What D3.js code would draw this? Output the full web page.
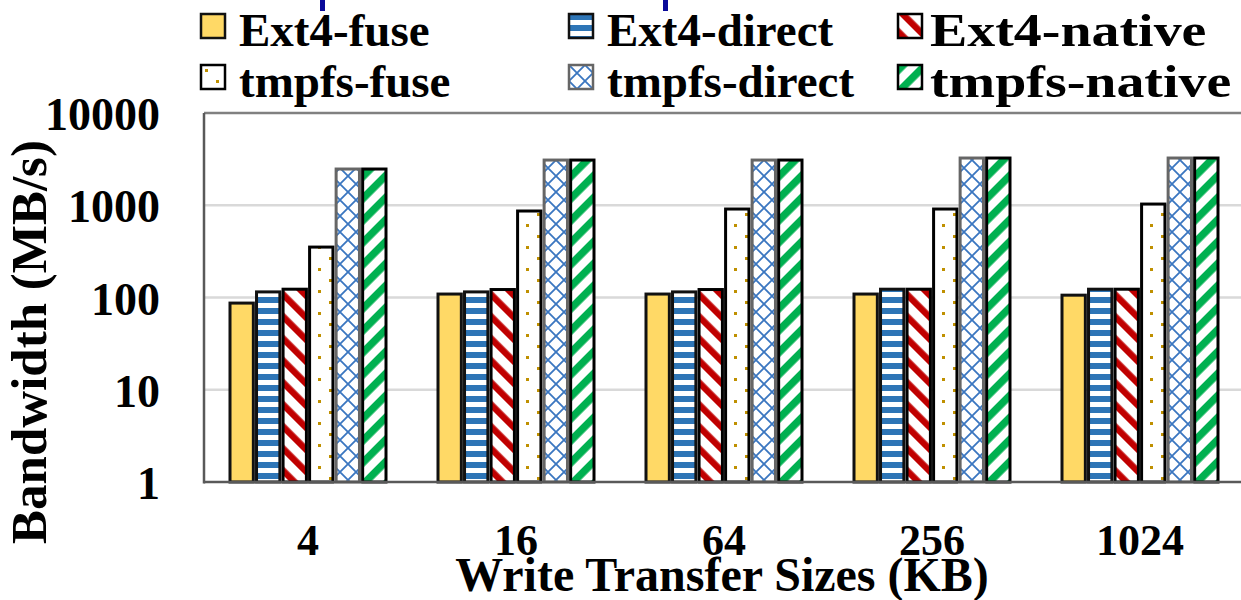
<!DOCTYPE html>
<html>
<head>
<meta charset="utf-8">
<script src="https://cdn.jsdelivr.net/npm/d3@7"></script>
<style>
  body { margin: 0; background: #fff; }
  svg { display: block; font-family: "Liberation Serif", "Times New Roman", serif; font-weight: bold; }
</style>
</head>
<body>
<div id="chart"></div>
<script>
const categories = ["4", "16", "64", "256", "1024"];
const seriesNames = ["Ext4-fuse", "Ext4-direct", "Ext4-native", "tmpfs-fuse", "tmpfs-direct", "tmpfs-native"];
const ext4Fuse = [87, 109, 109, 109, 106];
const ext4Direct = [115, 115, 115, 123, 123];
const ext4Native = [123, 122, 122, 123, 123];
const tmpfsFuse = [352, 866, 910, 910, 1030];
const tmpfsDirect = [2470, 3090, 3090, 3250, 3250];
const tmpfsNative = [2470, 3090, 3090, 3250, 3250];
const yTicks = [1, 10, 100, 1000, 10000];

const seriesValues = [ext4Fuse, ext4Direct, ext4Native, tmpfsFuse, tmpfsDirect, tmpfsNative];

const width = 1241, height = 600;
const margin = { top: 113, right: -3, bottom: 118, left: 204 };

const svg = d3.select("#chart").append("svg")
  .attr("width", width)
  .attr("height", height);

// fill patterns
const defs = svg.append("defs");

let p = defs.append("pattern").attr("id", "p-hstripe")
  .attr("patternUnits", "userSpaceOnUse").attr("width", 22).attr("height", 11);
p.append("rect").attr("width", 22).attr("height", 11).attr("fill", "#fff");
p.append("rect").attr("y", 0).attr("width", 22).attr("height", 6).attr("fill", "#2E75B6");

p = defs.append("pattern").attr("id", "p-down")
  .attr("patternUnits", "userSpaceOnUse").attr("width", 15.56).attr("height", 15.56)
  .attr("patternTransform", "rotate(-45)");
p.append("rect").attr("width", 15.56).attr("height", 15.56).attr("fill", "#fff");
p.append("rect").attr("width", 6.5).attr("height", 15.56).attr("fill", "#C00000");

p = defs.append("pattern").attr("id", "p-dots")
  .attr("patternUnits", "userSpaceOnUse").attr("width", 22).attr("height", 22);
p.append("rect").attr("width", 22).attr("height", 22).attr("fill", "#fff");
p.append("rect").attr("x", 4).attr("y", 4).attr("width", 3).attr("height", 3).attr("fill", "#BF9000");
p.append("rect").attr("x", 15).attr("y", 15).attr("width", 3).attr("height", 3).attr("fill", "#BF9000");

p = defs.append("pattern").attr("id", "p-cross")
  .attr("patternUnits", "userSpaceOnUse").attr("width", 16).attr("height", 16);
p.append("rect").attr("width", 16).attr("height", 16).attr("fill", "#fff");
p.append("path").attr("d", "M0,0L16,16M16,0L0,16")
  .attr("stroke", "#3A76C0").attr("stroke-width", 1.8)
  .attr("fill", "none");

p = defs.append("pattern").attr("id", "p-up")
  .attr("patternUnits", "userSpaceOnUse").attr("width", 15.56).attr("height", 15.56)
  .attr("patternTransform", "rotate(45)");
p.append("rect").attr("width", 15.56).attr("height", 15.56).attr("fill", "#fff");
p.append("rect").attr("width", 7.5).attr("height", 15.56).attr("fill", "#00B050");

const fills = ["#FFD966", "url(#p-hstripe)", "url(#p-down)", "url(#p-dots)", "url(#p-cross)", "url(#p-up)"];
const strokes = ["#111", "#111", "#000", "#000", "#666", "#000"];

const x0 = d3.scaleBand()
  .domain(categories)
  .range([margin.left, width - margin.right]);

const x1 = d3.scaleBand()
  .domain(seriesNames)
  .range([26, 182])
  .paddingInner(0.12);

const y = d3.scaleLog()
  .domain([1, 10000])
  .range([height - margin.bottom, margin.top]);

// gridlines
svg.append("g")
  .selectAll("line")
  .data(yTicks.slice(1, -1))
  .join("line")
  .attr("x1", margin.left)
  .attr("x2", width - margin.right)
  .attr("y1", d => y(d))
  .attr("y2", d => y(d))
  .attr("stroke", "#D9D9D9")
  .attr("stroke-width", 2.5);

// top border
svg.append("line")
  .attr("x1", margin.left).attr("x2", width - margin.right)
  .attr("y1", y(10000)).attr("y2", y(10000))
  .attr("stroke", "#808080").attr("stroke-width", 2.5);

// bars
const groups = svg.append("g")
  .selectAll("g")
  .data(categories)
  .join("g")
  .attr("transform", d => "translate(" + x0(d) + ",0)");

groups.selectAll("rect")
  .data((d, i) => seriesNames.map((s, j) => ({ s: s, j: j, v: seriesValues[j][i] })))
  .join("rect")
  .attr("x", d => x1(d.s))
  .attr("y", d => y(d.v))
  .attr("width", x1.bandwidth())
  .attr("height", d => y(1) - y(d.v))
  .attr("fill", d => fills[d.j])
  .attr("stroke", d => strokes[d.j])
  .attr("stroke-width", 3);

// axes
svg.append("line")
  .attr("x1", margin.left).attr("x2", margin.left)
  .attr("y1", y(10000)).attr("y2", y(1) + 1.5)
  .attr("stroke", "#595959").attr("stroke-width", 2.5);
svg.append("line")
  .attr("x1", margin.left).attr("x2", width - margin.right)
  .attr("y1", y(1)).attr("y2", y(1))
  .attr("stroke", "#595959").attr("stroke-width", 2.5);

const yAxis = svg.append("g")
  .attr("transform", "translate(" + margin.left + ",0)")
  .call(d3.axisLeft(y).tickValues(yTicks).tickFormat(d3.format("d")).tickSize(0).tickPadding(44));
yAxis.select(".domain").remove();
yAxis.selectAll("text")
  .attr("font-family", "Liberation Serif")
  .attr("font-weight", "bold")
  .attr("font-size", 46)
  .attr("fill", "#000")
  .attr("dy", "0.36em");

const xAxis = svg.append("g")
  .attr("transform", "translate(0," + y(1) + ")")
  .call(d3.axisBottom(x0).tickSize(0).tickPadding(42));
xAxis.select(".domain").remove();
xAxis.selectAll("text")
  .attr("font-family", "Liberation Serif")
  .attr("font-weight", "bold")
  .attr("font-size", 44)
  .attr("fill", "#000")
  .attr("dy", "0.71em");

// axis titles
svg.append("text")
  .attr("transform", "translate(46,342) rotate(-90)")
  .attr("text-anchor", "middle")
  .attr("font-size", 51)
  .text("Bandwidth (MB/s)");

svg.append("text")
  .attr("x", 722)
  .attr("y", 591)
  .attr("text-anchor", "middle")
  .attr("font-size", 48)
  .text("Write Transfer Sizes (KB)");

// legend
const legendCols = [201, 569, 898];
const legendRows = [14, 65];
const legendStretch = [1, 1, 1.19];
const legend = svg.append("g")
  .selectAll("g")
  .data(seriesNames)
  .join("g")
  .attr("transform", (d, i) => "translate(" + legendCols[i % 3] + "," + legendRows[Math.floor(i / 3)] + ")");
legend.append("rect")
  .attr("width", 24).attr("height", 24)
  .attr("fill", (d, i) => fills[i])
  .attr("stroke", (d, i) => strokes[i])
  .attr("stroke-width", 2.5);
legend.append("text")
  .attr("transform", (d, i) => "translate(" + (i % 3 === 2 ? 32 : 38) + ",32) scale(" + legendStretch[i % 3] + ",1)")
  .attr("font-size", 47)
  .text(d => d);

// stray marks at the top edge
svg.append("g")
  .selectAll("rect")
  .data([320, 663])
  .join("rect")
  .attr("x", d => d).attr("y", 0)
  .attr("width", 5).attr("height", 11)
  .attr("fill", "#0A0A9A");
</script>
</body>
</html>
